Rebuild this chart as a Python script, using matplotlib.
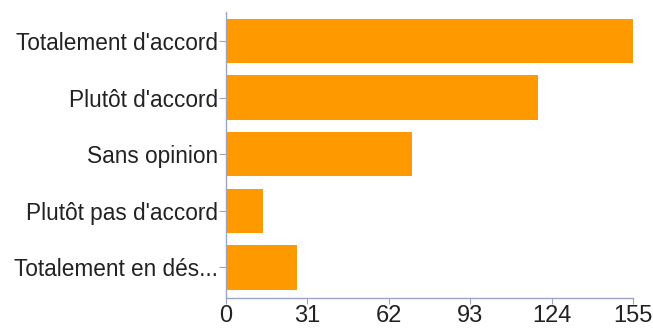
import matplotlib
matplotlib.use("Agg")
import matplotlib.pyplot as plt

categories = ["Totalement d'accord", "Plutôt d'accord", "Sans opinion",
              "Plutôt pas d'accord", "Totalement en dés..."]
counts = [155, 119, 71, 14, 27]
xticks = [0, 31, 62, 93, 124, 155]

plt.rcParams['font.family'] = ['Liberation Sans', 'DejaVu Sans']

fig = plt.figure(figsize=(6.53, 3.29), dpi=100)
ax = fig.add_axes([226 / 653, 31 / 329, 407 / 653, 286 / 329])

ax.barh(range(len(categories)), counts, height=0.78, color='#ff9900')
ax.set_ylim(4.54, -0.51)
ax.set_xlim(0, 155)
ax.set_yticks(range(len(categories)))
ax.set_yticklabels(categories, fontsize=16.3, color='#222222')
ax.set_xticks(xticks)
ax.set_xticklabels([str(t) for t in xticks], fontsize=17, color='#222222')

for side in ['top', 'right']:
    ax.spines[side].set_visible(False)
for side in ['left', 'bottom']:
    ax.spines[side].set_color('#9ea4c4')
    ax.spines[side].set_linewidth(1)
ax.tick_params(axis='y', length=5, color='#9ea4c4', pad=1)
ax.tick_params(axis='x', length=4, color='#9ea4c4', pad=1)

fig.savefig('out.png', dpi=100)
